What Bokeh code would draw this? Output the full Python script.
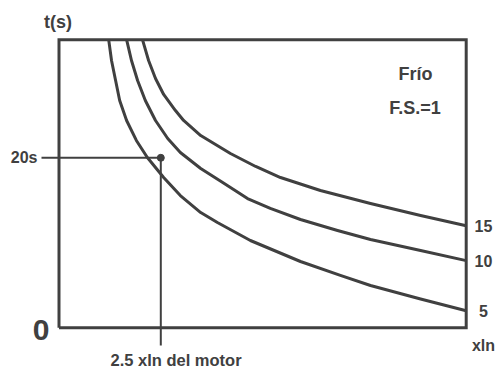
from bokeh.plotting import figure
from bokeh.models import Range1d
from bokeh.core.properties import value
from bokeh.embed import file_html
from bokeh.resources import INLINE

# ---- data ----
x_max = 10.0          # xIn at right edge of box
t_max = 33.9          # seconds at top edge of box
mark_x = 2.5          # 2.5 xIn del motor
mark_t = 20.0         # 20 s

curve_labels = ["5", "10", "15"]
curve_5_x = [1.22, 1.29, 1.39, 1.49, 1.66, 1.90, 2.17, 2.57, 2.98, 3.48, 3.89,
             4.70, 5.93, 6.91, 7.65, 8.88, 10.0]
curve_5_y = [33.9, 31.45, 29.09, 26.74, 24.39, 22.04, 20.04, 17.68, 15.56, 13.56, 12.39,
             10.27, 7.80, 6.16, 4.98, 3.39, 2.0]
curve_10_x = [1.66, 1.78, 1.93, 2.12, 2.37, 2.67, 2.98, 3.48, 4.02, 4.63, 5.19,
              5.93, 6.84, 7.65, 8.88, 10.0]
curve_10_y = [33.9, 31.45, 29.09, 26.74, 24.39, 22.27, 20.62, 18.74, 17.09, 15.21, 14.04,
              12.74, 11.45, 10.39, 9.09, 7.9]
curve_15_x = [2.05, 2.20, 2.37, 2.57, 2.86, 3.06, 3.48, 4.21, 4.83, 5.44, 6.42,
              7.65, 8.88, 10.0]
curve_15_y = [33.9, 31.45, 29.33, 27.45, 25.56, 24.39, 22.62, 20.51, 18.98, 17.68, 16.15,
              14.62, 13.21, 12.0]

# ---- layout: pixel <-> data mapping ----
W, H = 495, 369
PX0, PX1 = 58.5, 465.7     # page x of x=0 and x=x_max
PY0 = 327.3                # page y of t=0
PPS = 8.5                  # pixels per second
PPX = (PX1 - PX0) / x_max

def dx(px):
    return (px - PX0) / PPX

def dy(py):
    return (PY0 - py) / PPS

p = figure(width=W, height=H, output_backend="svg", toolbar_location=None,
           x_range=Range1d(dx(0), dx(W)), y_range=Range1d(dy(H), dy(0)),
           min_border=0, min_border_left=0, min_border_right=0,
           min_border_top=0, min_border_bottom=0)
p.axis.visible = False
p.grid.visible = False
p.outline_line_color = None
p.background_fill_color = "white"
p.border_fill_color = "white"

INK = "#404040"
FONT = value("Liberation Sans")

# box
p.line([0, 0, x_max, x_max, 0], [0, t_max, t_max, 0, 0],
       line_color=INK, line_width=3, line_join="miter")

# curves
for cx, cy in [(curve_5_x, curve_5_y), (curve_10_x, curve_10_y), (curve_15_x, curve_15_y)]:
    p.line(cx, cy, line_color=INK, line_width=3, line_join="round")

# 20 s guide lines and marker
p.line([dx(41), mark_x], [mark_t, mark_t], line_color=INK, line_width=2)
p.line([mark_x, mark_x], [mark_t, dy(345)], line_color=INK, line_width=2)
p.scatter([mark_x], [mark_t], size=7, color=INK)

def label(txt, x, y, size, align="left"):
    p.text([x], [y], text=[txt], text_font=FONT, text_font_style="bold",
           text_font_size=size, text_color=INK, text_align=align,
           text_baseline="middle")

label("t(s)", dx(57.5), dy(21), "18px", "center")
label("20s", dx(37), mark_t, "16px", "right")
label("0", dx(49), dy(329), "30px", "right")
label("2.5 xln del motor", dx(110), dy(359.5), "16.5px", "left")
label("Frío", dx(415), dy(73.3), "18px", "center")
label("F.S.=1", dx(414.5), dy(107.5), "18px", "center")
ends = [curve_5_y[-1], curve_10_y[-1], curve_15_y[-1]]
for lab, yv in zip(curve_labels, ends):
    label(lab, dx(483), yv, "16px", "center")
label("xln", dx(483), dy(345), "16px", "center")

open("out.html", "w").write(file_html(p, INLINE))
